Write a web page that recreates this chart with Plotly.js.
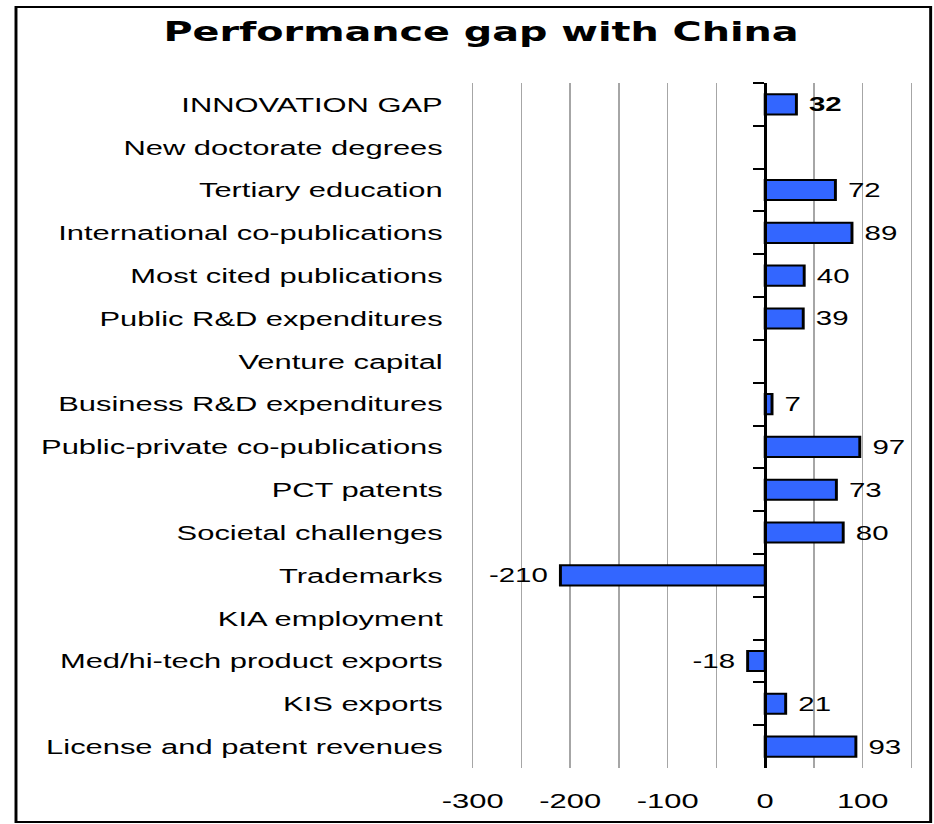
<!DOCTYPE html>
<html>
<head>
<meta charset="utf-8">
<script src="https://cdn.plot.ly/plotly-3.0.1.min.js"></script>
<style>
  html, body { margin: 0; padding: 0; background: #ffffff; overflow: hidden; }
  #chart { width: 635px; height: 824px; transform: scaleX(1.4709); transform-origin: 0 0; }
</style>
</head>
<body>
<div id="chart"></div>
<script>
const categories = [
  "INNOVATION GAP",
  "New doctorate degrees",
  "Tertiary education",
  "International co-publications",
  "Most cited publications",
  "Public R&D expenditures",
  "Venture capital",
  "Business R&D expenditures",
  "Public-private co-publications",
  "PCT patents",
  "Societal challenges",
  "Trademarks",
  "KIA employment",
  "Med/hi-tech product exports",
  "KIS exports",
  "License and patent revenues"
];
const gapValues = [32, null, 72, 89, 40, 39, null, 7, 97, 73, 80, -210, null, -18, 21, 93];
const xTickValues = [-300, -250, -200, -150, -100, -50, 0, 50, 100, 150];
const xTickLabels = ["-300", "", "-200", "", "-100", "", "0", "", "100", ""];
const chartTitle = "Performance gap with China";

const NB = "\u00a0";
const labelText = gapValues.map(v => (v === null ? "" : String(v)));
const templates = gapValues.map((v, i) => {
  if (v === null) return "";
  let t = v < 0 ? "%{text}" + NB : NB + "%{text}";
  if (i === 0) t = "<b>" + t + "</b>";
  return t;
});

const catRange = [categories.length - 0.5, -0.5];
const xRange = [-302, 152];

const traces = [
  {
    type: "bar",
    orientation: "h",
    x: gapValues,
    y: categories,
    text: labelText,
    xaxis: "x",
    yaxis: "y",
    marker: { color: "#3366ff", line: { color: "#000000", width: 2 } },
    texttemplate: templates,
    textposition: "outside",
    textfont: { family: "Liberation Sans, Arial, sans-serif", size: 20, color: "#000000" },
    cliponaxis: false,
    constraintext: "none",
    hoverinfo: "skip",
    showlegend: false
  },
  {
    type: "scatter",
    mode: "none",
    x: gapValues,
    y: categories,
    xaxis: "x",
    yaxis: "y2",
    hoverinfo: "skip",
    showlegend: false
  }
];

const layout = {
  width: 635,
  height: 824,
  margin: { l: 320, r: 14, t: 83, b: 56 },
  paper_bgcolor: "#ffffff",
  plot_bgcolor: "rgba(0,0,0,0)",
  showlegend: false,
  bargap: 0.53,
  title: {
    text: chartTitle,
    font: { family: "DejaVu Sans, Verdana, sans-serif", size: 27, color: "#000000", weight: "bold" },
    xref: "container",
    x: 0.515,
    xanchor: "center",
    yref: "container",
    y: 1 - 32 / 824,
    yanchor: "middle"
  },
  xaxis: {
    range: xRange,
    tickmode: "array",
    tickvals: xTickValues,
    ticktext: xTickLabels,
    ticks: "",
    ticklabelstandoff: 18,
    showgrid: true,
    gridcolor: "#a6a6a6",
    gridwidth: 1,
    zeroline: false,
    showline: false,
    tickfont: { family: "Liberation Sans, Arial, sans-serif", size: 21, color: "#000000" },
    fixedrange: true
  },
  yaxis: {
    type: "category",
    categoryorder: "array",
    categoryarray: categories,
    range: catRange,
    showgrid: false,
    zeroline: false,
    showline: false,
    ticks: "",
    ticklabelstandoff: 18,
    tickfont: { family: "Liberation Sans, Arial, sans-serif", size: 21, color: "#000000" },
    fixedrange: true
  },
  yaxis2: {
    type: "category",
    categoryorder: "array",
    categoryarray: categories,
    range: catRange,
    overlaying: "y",
    anchor: "free",
    side: "left",
    position: (0 - xRange[0]) / (xRange[1] - xRange[0]),
    showline: true,
    linecolor: "#000000",
    linewidth: 2,
    ticks: "outside",
    tickson: "boundaries",
    ticklen: 7,
    tickwidth: 2,
    tickcolor: "#000000",
    showticklabels: false,
    showgrid: false,
    zeroline: false,
    fixedrange: true
  },
  shapes: [
    {
      type: "rect",
      xref: "paper",
      yref: "paper",
      x0: -1.027,
      x1: 1.0389,
      y0: -0.0788,
      y1: 1.111,
      line: { color: "#000000", width: 2 },
      fillcolor: "rgba(0,0,0,0)",
      layer: "above"
    }
  ]
};

Plotly.newPlot("chart", traces, layout, { staticPlot: true, displayModeBar: false });
</script>
</body>
</html>
